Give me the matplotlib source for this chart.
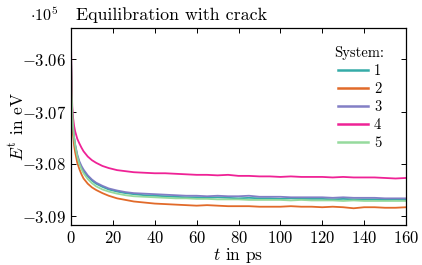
import matplotlib
matplotlib.use("Agg")
import matplotlib.pyplot as plt
from matplotlib.ticker import FuncFormatter, MultipleLocator

plt.rcParams['font.family'] = ['cmr10', 'DejaVu Serif']
plt.rcParams['mathtext.fontset'] = 'cm'
plt.rcParams['axes.formatter.use_mathtext'] = True

# time in ps
t = [0, 0.3, 0.6, 1, 1.5, 2, 3, 4, 5, 6, 8, 10, 12, 15, 18, 22, 26, 30, 35, 40,
     45, 50, 55, 60, 65, 70, 75, 80, 85, 90, 95, 100, 105, 110, 115, 120, 125,
     130, 135, 140, 145, 150, 155, 160]

# total energy in units of 1e5 eV
sys1 = [-3.0588, -3.0664, -3.0704, -3.0730, -3.0751, -3.0765, -3.0785, -3.0798, -3.0807, -3.0814,
        -3.0824, -3.0832, -3.0838, -3.0844, -3.0849, -3.0853, -3.0856, -3.0858, -3.0860, -3.0861,
        -3.0862, -3.0863, -3.0864, -3.0864, -3.0865, -3.0864, -3.0865, -3.0866, -3.0865, -3.0866,
        -3.0866, -3.0867, -3.0866, -3.0867, -3.0867, -3.0867, -3.0868, -3.0867, -3.0868, -3.0868,
        -3.0868, -3.0869, -3.0868, -3.0869]
sys2 = [-3.0600, -3.0680, -3.0720, -3.0745, -3.0765, -3.0778, -3.0798, -3.0810, -3.0820, -3.0828,
        -3.0838, -3.0845, -3.0850, -3.0856, -3.0861, -3.0866, -3.0869, -3.0872, -3.0874, -3.0876,
        -3.0877, -3.0878, -3.0879, -3.0880, -3.0879, -3.0880, -3.0881, -3.0881, -3.0881, -3.0882,
        -3.0882, -3.0882, -3.0881, -3.0882, -3.0882, -3.0883, -3.0882, -3.0883, -3.0885, -3.0883,
        -3.0883, -3.0884, -3.0884, -3.0883]
sys3 = [-3.0590, -3.0665, -3.0705, -3.0730, -3.0750, -3.0763, -3.0782, -3.0795, -3.0804, -3.0811,
        -3.0822, -3.0830, -3.0836, -3.0842, -3.0847, -3.0851, -3.0854, -3.0856, -3.0857, -3.0858,
        -3.0859, -3.0860, -3.0861, -3.0861, -3.0862, -3.0861, -3.0862, -3.0862, -3.0861, -3.0863,
        -3.0863, -3.0863, -3.0864, -3.0864, -3.0864, -3.0864, -3.0865, -3.0864, -3.0865, -3.0865,
        -3.0865, -3.0866, -3.0866, -3.0866]
sys4 = [-3.0568, -3.0650, -3.0690, -3.0712, -3.0728, -3.0738, -3.0752, -3.0761, -3.0769, -3.0776,
        -3.0786, -3.0793, -3.0798, -3.0804, -3.0808, -3.0812, -3.0814, -3.0816, -3.0817, -3.0818,
        -3.0818, -3.0819, -3.0820, -3.0821, -3.0821, -3.0822, -3.0821, -3.0823, -3.0823, -3.0824,
        -3.0824, -3.0825, -3.0824, -3.0825, -3.0825, -3.0825, -3.0826, -3.0825, -3.0826, -3.0826,
        -3.0826, -3.0827, -3.0828, -3.0827]
sys5 = [-3.0580, -3.0658, -3.0700, -3.0728, -3.0750, -3.0765, -3.0786, -3.0800, -3.0810, -3.0818,
        -3.0829, -3.0837, -3.0843, -3.0849, -3.0853, -3.0857, -3.0860, -3.0862, -3.0863, -3.0864,
        -3.0865, -3.0866, -3.0866, -3.0867, -3.0867, -3.0868, -3.0868, -3.0868, -3.0869, -3.0869,
        -3.0869, -3.0869, -3.0870, -3.0869, -3.0870, -3.0870, -3.0870, -3.0871, -3.0870, -3.0871,
        -3.0871, -3.0871, -3.0871, -3.0871]

labels = ['1', '2', '3', '4', '5']
series = [sys1, sys2, sys3, sys4, sys5]
colors = ['#2aa7a3', '#e0621e', '#7c78c2', '#ee1690', '#90d898']

fig = plt.figure(figsize=(4.22, 2.65), dpi=100)
ax = fig.add_axes([71/422, 1 - 225/265, (406-71)/422, (225-28)/265])

for y, lab, c in zip(series, labels, colors):
    ax.plot(t, y, color=c, lw=1.3, label=lab, alpha=0.95)

ax.set_xlim(0, 160)
ax.set_ylim(-3.0917, -3.0540)
ax.xaxis.set_major_locator(MultipleLocator(20))
ax.yaxis.set_major_locator(MultipleLocator(0.01))
ax.yaxis.set_major_formatter(FuncFormatter(lambda v, p: r'$%.2f$' % v))
ax.xaxis.set_major_formatter(FuncFormatter(lambda v, p: r'$%d$' % v))
ax.tick_params(direction='in', top=True, right=True, length=3.5, width=0.7,
               labelsize=12)
for s in ax.spines.values():
    s.set_linewidth(0.9)

ax.set_xlabel(r'$t$ in ps', fontsize=12.5, labelpad=0)
ax.set_ylabel(r'$E^{\mathrm{t}}$ in eV', fontsize=12.5)
ax.yaxis.set_label_coords(-0.135, 0.5)
fig.text(76/422, 1 - 15/265, 'Equilibration with crack', fontsize=12.9,
         ha='left', va='center')
fig.text(30/422, 1 - 15/265, r'$\cdot 10^{5}$', fontsize=11.5, ha='left', va='center')

leg = ax.legend(title='System:', frameon=False, loc='upper right',
                bbox_to_anchor=(0.975, 0.975), fontsize=10.5, title_fontsize=10.5,
                handlelength=2.1, handletextpad=0.4, labelspacing=0.3)
leg._legend_box.sep = 3
for h in leg.get_lines():
    h.set_linewidth(1.8)

fig.savefig('out.png', dpi=100)
